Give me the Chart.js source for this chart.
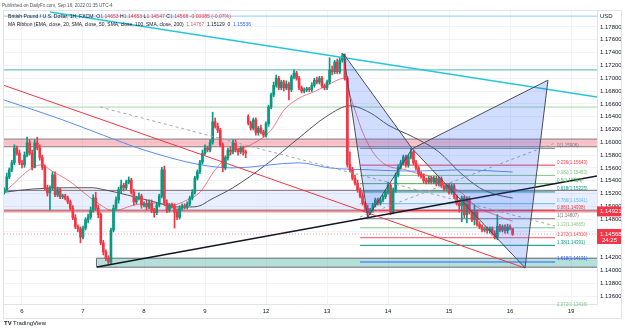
<!DOCTYPE html>
<html>
<head>
<meta charset="utf-8">
<script src="https://cdn.jsdelivr.net/npm/chart.js@4.4.1/dist/chart.umd.min.js"></script>
<style>
  html, body { margin: 0; padding: 0; background: #fff; }
</style>
</head>
<body>
<canvas id="chart1" width="625" height="330"></canvas>
<script>
// GBP/USD 1H candles. Bar index 8 = Sep 6 00:00, one bar per hour (weekend skipped)
var firstOpen = 1.1522;
var gapOpens = {96: 1.1640};   // Sunday open after the weekend gap

var closes = [
  1.1526,1.1546,1.1557,1.1568,1.1591,1.1583,1.1568,1.1565,1.1580,1.1599,
  1.1583,1.1561,1.1599,1.1591,1.1576,1.1561,1.1529,1.1521,1.1529,1.1549,
  1.1518,1.1526,1.1515,1.1516,1.1513,1.1507,1.1497,1.1482,1.1468,1.1465,
  1.1452,1.1466,1.1479,1.1483,1.1494,1.1513,1.1497,1.1487,1.1443,1.1429,
  1.1419,1.1413,1.1463,1.1497,1.1510,1.1526,1.1533,1.1529,1.1538,1.1541,
  1.1522,1.1507,1.1513,1.1516,1.1502,1.1504,1.1499,1.1505,1.1494,1.1490,
  1.1502,1.1516,1.1557,1.1505,1.1494,1.1502,1.1501,1.1491,1.1483,1.1497,
  1.1501,1.1499,1.1504,1.1513,1.1522,1.1544,1.1554,1.1569,1.1583,1.1591,
  1.1588,1.1600,1.1632,1.1625,1.1619,1.1596,1.1560,1.1576,1.1588,1.1585,
  1.1600,1.1588,1.1585,1.1591,1.1585,1.1583,1.1630,1.1622,1.1635,1.1615,
  1.1622,1.1616,1.1611,1.1629,1.1655,1.1674,1.1689,1.1700,1.1685,1.1694,
  1.1685,1.1691,1.1682,1.1702,1.1708,1.1700,1.1685,1.1680,1.1682,1.1683,
  1.1682,1.1689,1.1697,1.1694,1.1700,1.1688,1.1685,1.1694,1.1713,1.1710,
  1.1725,1.1710,1.1728,1.1735,1.1700,1.1565,1.1557,1.1544,1.1536,1.1526,
  1.1516,1.1505,1.1497,1.1490,1.1494,1.1502,1.1510,1.1505,1.1510,1.1515,
  1.1522,1.1533,1.1491,1.1526,1.1549,1.1561,1.1568,1.1577,1.1565,1.1577,
  1.1585,1.1568,1.1560,1.1551,1.1547,1.1540,1.1538,1.1544,1.1538,1.1544,
  1.1535,1.1543,1.1532,1.1527,1.1533,1.1522,1.1532,1.1515,1.1505,1.1501,
  1.1513,1.1487,1.1512,1.1491,1.1479,1.1491,1.1472,1.1468,1.1463,1.1465,
  1.1462,1.1465,1.1458,1.1451,1.1469,1.1463,1.1468,1.1462,1.1468,1.1465,
  1.14568
];
var highs = [
  1.1529,1.1552,1.1560,1.1572,1.1596,1.1594,1.1588,1.1572,1.1585,1.1608,
  1.1604,1.1588,1.1604,1.1608,1.1596,1.1580,1.1565,1.1533,1.1532,1.1554,
  1.1554,1.1530,1.1529,1.1519,1.1519,1.1516,1.1510,1.1501,1.1487,1.1471,
  1.1468,1.1469,1.1482,1.1488,1.1499,1.1518,1.1522,1.1502,1.1490,1.1447,
  1.1432,1.1423,1.1466,1.1502,1.1515,1.1530,1.1541,1.1536,1.1541,1.1546,
  1.1544,1.1526,1.1516,1.1521,1.1519,1.1507,1.1510,1.1510,1.1510,1.1497,
  1.1505,1.1519,1.1561,1.1563,1.1510,1.1505,1.1505,1.1504,1.1496,1.1501,
  1.1504,1.1504,1.1507,1.1516,1.1526,1.1547,1.1557,1.1572,1.1588,1.1596,
  1.1594,1.1604,1.1647,1.1638,1.1630,1.1622,1.1599,1.1579,1.1591,1.1593,
  1.1604,1.1604,1.1591,1.1594,1.1594,1.1588,1.1643,1.1633,1.1638,1.1638,
  1.1625,1.1627,1.1619,1.1632,1.1658,1.1677,1.1694,1.1705,1.1703,1.1697,
  1.1697,1.1696,1.1694,1.1705,1.1713,1.1711,1.1703,1.1688,1.1685,1.1686,
  1.1686,1.1693,1.1700,1.1702,1.1703,1.1703,1.1691,1.1697,1.1732,1.1719,
  1.1728,1.1730,1.1732,1.1739,1.1738,1.1703,1.1585,1.1561,1.1549,1.1541,
  1.1529,1.1521,1.1508,1.1502,1.1497,1.1505,1.1513,1.1513,1.1513,1.1518,
  1.1526,1.1538,1.1536,1.1529,1.1552,1.1565,1.1572,1.1580,1.1580,1.1580,
  1.1590,1.1588,1.1572,1.1563,1.1554,1.1551,1.1544,1.1547,1.1547,1.1547,
  1.1547,1.1546,1.1546,1.1536,1.1536,1.1536,1.1535,1.1535,1.1518,1.1510,
  1.1516,1.1516,1.1515,1.1515,1.1494,1.1502,1.1494,1.1476,1.1471,1.1468,
  1.1468,1.1468,1.1468,1.1462,1.1487,1.1472,1.1471,1.1471,1.1472,1.1471,
  1.14653
];
var lows = [
  1.1519,1.1524,1.1543,1.1554,1.1565,1.1580,1.1565,1.1560,1.1561,1.1577,
  1.1580,1.1557,1.1560,1.1588,1.1572,1.1557,1.1526,1.1516,1.1494,1.1526,
  1.1515,1.1515,1.1512,1.1512,1.1510,1.1504,1.1494,1.1479,1.1465,1.1460,
  1.1443,1.1449,1.1463,1.1474,1.1480,1.1491,1.1494,1.1482,1.1440,1.1424,
  1.1415,1.1410,1.1410,1.1460,1.1494,1.1505,1.1521,1.1524,1.1526,1.1535,
  1.1519,1.1502,1.1504,1.1510,1.1497,1.1499,1.1494,1.1496,1.1490,1.1483,
  1.1487,1.1499,1.1513,1.1502,1.1490,1.1491,1.1497,1.1466,1.1479,1.1480,
  1.1494,1.1496,1.1496,1.1501,1.1510,1.1519,1.1541,1.1551,1.1566,1.1580,
  1.1585,1.1585,1.1597,1.1622,1.1615,1.1593,1.1554,1.1557,1.1572,1.1580,
  1.1582,1.1585,1.1580,1.1582,1.1580,1.1576,1.1627,1.1619,1.1619,1.1611,
  1.1611,1.1613,1.1608,1.1608,1.1625,1.1652,1.1671,1.1686,1.1682,1.1682,
  1.1680,1.1682,1.1666,1.1679,1.1699,1.1697,1.1682,1.1677,1.1677,1.1679,
  1.1679,1.1679,1.1686,1.1691,1.1691,1.1685,1.1682,1.1682,1.1691,1.1705,
  1.1707,1.1707,1.1707,1.1725,1.1697,1.1561,1.1554,1.1541,1.1533,1.1522,
  1.1513,1.1502,1.1494,1.1483,1.1487,1.1491,1.1499,1.1502,1.1502,1.1507,
  1.1512,1.1519,1.1487,1.1488,1.1522,1.1546,1.1558,1.1565,1.1561,1.1561,
  1.1574,1.1565,1.1557,1.1547,1.1544,1.1536,1.1535,1.1535,1.1535,1.1535,
  1.1532,1.1532,1.1529,1.1524,1.1524,1.1519,1.1519,1.1512,1.1502,1.1491,
  1.1476,1.1482,1.1474,1.1488,1.1476,1.1471,1.1469,1.1465,1.1460,1.1460,
  1.1458,1.1458,1.1455,1.1449,1.1448,1.1460,1.1460,1.1458,1.1458,1.1463,
  1.14547
];

// MA Ribbon values at a few bars
var ema20Idx  = [1,7,12,16,19,26,30,35,39,43,45,52,61,67,73,78,84,91,98,106,111,117,123,128,135,137,139,142,146,151,159,163,169,174,181,187,194,201];
var ema20Vals = [1.1521,1.1544,1.1560,1.1565,1.1557,1.1541,1.1529,1.1513,1.1502,1.1494,1.1494,1.1502,1.1505,1.1502,1.1510,1.1522,1.1557,1.1585,1.1596,1.1619,1.1650,1.1669,1.1679,1.1689,1.1700,1.1674,1.1650,1.1616,1.1585,1.1565,1.1557,1.1552,1.1546,1.1536,1.1521,1.1499,1.1487,1.14767];
var sma50Idx  = [1,12,26,36,39,45,54,62,67,74,78,82,91,104,117,128,137,145,152,162,172,180,188,194,201];
var sma50Vals = [1.1522,1.1527,1.1529,1.1529,1.1527,1.1522,1.1513,1.1505,1.1499,1.1499,1.1501,1.1510,1.1529,1.1565,1.1607,1.1641,1.1657,1.1646,1.1627,1.1608,1.1585,1.1554,1.1529,1.1519,1.15129];
var sma200Idx  = [1,24,40,56,78,91,117,129,145,162,181,201];
var sma200Vals = [1.1666,1.1635,1.1611,1.1588,1.1565,1.1560,1.1568,1.1560,1.1557,1.1555,1.1557,1.15536];

// axis ticks
var dayTickIdx = [8, 32, 56, 80, 104, 128, 152, 176, 200, 224];
var dayTickLabels = ['6', '7', '8', '9', '12', '13', '14', '15', '16', '19'];
var priceTicks = [1.136,1.138,1.140,1.142,1.144,1.146,1.148,1.150,1.152,1.154,1.156,1.158,1.160,1.162,1.164,1.166,1.168,1.170,1.172,1.174,1.176,1.178];
var hiddenPriceTicks = [1.144, 1.146];

// drawings
var redZone = [1.1605, 1.1593];
var blueZone = [1.1525, 1.1494];
var greenZone = [1.1419, 1.1405];
var greenZoneStart = 37.3;
var hLinePrices = [1.1797, 1.1713, 1.1655, 1.14921];
var hLineColors = ['#90caf9', '#4db6ac', '#a5d6a7', 'rgba(242,54,69,0.55)'];
var fibLevels = ['0','0.236','0.382','0.5','0.618','0.786','0.88','1','1.13','1.272','1.38','1.618','2.272'];
var fibPrices = [1.15906,1.15643,1.15483,1.15354,1.15225,1.15041,1.14938,1.14807,1.14665,1.14510,1.14391,1.14131,1.13416];
var fibColors = ['#787b86','#f23645','#81c784','#4caf50','#089981','#64b5f6','#f23645','#787b86','#81c784','#f7525f','#089981','#2962ff','#81c784'];
var fibStart = 141, fibEnd = 217.7;
// XABCD pattern points
var patIdx = [134.5, 144, 161.5, 205.9, 214.9];
var patPrices = [1.1738, 1.1483, 1.1590, 1.1404, 1.1697];

var lastOpen = 1.14653, lastClose = 1.14568;

var up = '#089981', down = '#f23645';
var bodyData = [], wickData = [], colors = [];
for (var k = 0; k < closes.length; k++) {
    var o = k === 0 ? firstOpen : (gapOpens[k] !== undefined ? gapOpens[k] : closes[k - 1]);
    bodyData.push({x: k + 1, y: [o, closes[k]]});
    wickData.push({x: k + 1, y: [lows[k], highs[k]]});
    colors.push(closes[k] >= o ? up : down);
}

function pts(xs, ys) {
    return xs.map(function(x, i) { return {x: x, y: ys[i]}; });
}
function seg(x1, y1, x2, y2, color, width, dash, order) {
    return {type: 'line', data: [{x: x1, y: y1}, {x: x2, y: y2}], borderColor: color, borderWidth: width,
        borderDash: dash || [], pointRadius: 0, fill: false, tension: 0, order: order};
}
function poly(xs, ys, fillColor, lineColor, width, order) {
    return {type: 'line', data: pts(xs, ys), backgroundColor: fillColor, borderColor: lineColor, borderWidth: width,
        pointRadius: 0, fill: 'shape', tension: 0, order: order};
}
function zone(x0, x1, p) {
    return [[x0, x1, x1, x0, x0], [p[0], p[0], p[1], p[1], p[0]]];
}

var datasets = [];
var z = zone(-5, 240, redZone);
datasets.push(poly(z[0], z[1], 'rgba(242,54,69,0.3)', '#7b7e87', 1, 20));
z = zone(-5, 240, blueZone);
datasets.push(poly(z[0], z[1], 'rgba(41,98,255,0.1)', '#7d6a70', 1, 20));
z = zone(greenZoneStart, 240, greenZone);
datasets.push(poly(z[0], z[1], 'rgba(8,153,129,0.3)', '#6a6d78', 1, 20));

hLinePrices.forEach(function(p, i) {
    datasets.push(seg(-5, p, 240, p, hLineColors[i], i === 3 ? 2 : 1, null, 18));
});
fibPrices.forEach(function(p, i) {
    datasets.push(seg(fibStart, p, fibEnd, p, fibColors[i], 1, null, 16));
});

datasets.push({type: 'line', data: pts(sma200Idx, sma200Vals), borderColor: '#5b8def', borderWidth: 1,
    pointRadius: 0, cubicInterpolationMode: 'monotone', fill: false, order: 14});
datasets.push({type: 'line', data: pts(sma50Idx, sma50Vals), borderColor: '#50535e', borderWidth: 1,
    pointRadius: 0, cubicInterpolationMode: 'monotone', fill: false, order: 14});
datasets.push({type: 'line', data: pts(ema20Idx, ema20Vals), borderColor: 'rgba(242,54,69,0.65)', borderWidth: 1,
    pointRadius: 0, cubicInterpolationMode: 'monotone', fill: false, order: 14});

datasets.push({type: 'bar', data: wickData, backgroundColor: colors, barThickness: 1, grouped: false, order: 12});
datasets.push({type: 'bar', data: bodyData, backgroundColor: colors, barThickness: 2, grouped: false, minBarLength: 1, order: 11});

// trend lines
datasets.push(seg(19.0, 1.18034, 234.2, 1.16707, '#26c6da', 1.5, null, 5));
datasets.push(seg(0.53, 1.16894, 205.9, 1.14037, '#f23645', 1, null, 5));
datasets.push(seg(37.5, 1.14053, 234.2, 1.15474, '#131722', 1.5, null, 5));
datasets.push(seg(38.7, 1.16551, 217.7, 1.14693, '#a3a6af', 1, [3, 3], 5));
datasets.push(seg(141, 1.14834, 217.7, 1.15990, '#a3a6af', 1, [3, 3], 5));

// XABCD pattern
datasets.push(poly([patIdx[0], patIdx[1], patIdx[2], patIdx[0]], [patPrices[0], patPrices[1], patPrices[2], patPrices[0]],
    'rgba(41,98,255,0.22)', '#4a4d57', 1, 4));
datasets.push(poly([patIdx[2], patIdx[3], patIdx[4], patIdx[2]], [patPrices[2], patPrices[3], patPrices[4], patPrices[2]],
    'rgba(41,98,255,0.22)', '#4a4d57', 1, 4));

// last price line
datasets.push(seg(-5, lastClose, 240, lastClose, 'rgba(242,54,69,0.5)', 1, [1, 2], 3));

var FONT = '"Liberation Sans", Arial, sans-serif';

function runs(ctx, x, y, parts) {
    parts.forEach(function(p) {
        ctx.fillStyle = p[1];
        ctx.fillText(p[0], x, y);
        x += ctx.measureText(p[0]).width;
    });
}

var textPlugin = {
    id: 'texts',
    afterDraw: function(chart) {
        var ctx = chart.ctx, xs = chart.scales.x, ys = chart.scales.y, area = chart.chartArea;
        ctx.save();

        // fib labels
        ctx.save();
        ctx.beginPath();
        ctx.rect(area.left, area.top, area.right - area.left, area.bottom - area.top + 2);
        ctx.clip();
        ctx.font = '4.5px ' + FONT;
        ctx.textBaseline = 'bottom';
        ctx.textAlign = 'left';
        fibPrices.forEach(function(p, i) {
            ctx.fillStyle = fibColors[i];
            ctx.fillText(fibLevels[i] + '(' + p.toFixed(5) + ')', xs.getPixelForValue(218.5), ys.getPixelForValue(p) - 0.5);
        });
        ctx.restore();

        // header
        ctx.textBaseline = 'middle';
        ctx.font = '4.6px ' + FONT;
        ctx.fillStyle = '#50535e';
        ctx.fillText('Published on DailyFx.com, Sep 16, 2022 01:35 UTC-4', 2, 6);
        ctx.font = '5.1px ' + FONT;
        var dark = '#131722', red = '#f23645';
        runs(ctx, 8, 17, [['British Pound / U.S. Dollar, 1H, FXCM  O', dark], ['1.14653', red], [' H', dark], ['1.14653', red],
            [' L', dark], ['1.14547', red], [' C', dark], ['1.14568', red], [' -0.00085 (-0.07%)', red]]);
        ctx.font = '4.95px ' + FONT;
        runs(ctx, 8, 25, [['MA Ribbon (EMA, close, 20, SMA, close, 50, SMA, close, 100, SMA, close, 200)  ', dark],
            ['1.14767', '#f7525f'], ['  1.15129', dark], ['  0', dark], ['  1.15536', '#2962ff']]);

        // price scale extras
        ctx.font = '6px ' + FONT;
        ctx.fillStyle = dark;
        ctx.fillText('USD', 600, 16);
        var y1 = ys.getPixelForValue(1.14921);
        ctx.fillStyle = red;
        ctx.fillRect(597, y1 - 5, 24, 10);
        var y2 = ys.getPixelForValue(lastClose);
        ctx.fillRect(597, y2 - 5, 24, 15);
        ctx.fillStyle = '#fff';
        ctx.fillText('1.14921', 600, y1);
        ctx.fillText(lastClose.toFixed(5), 600, y2);
        ctx.fillText('24:25', 602, y2 + 6);

        // frame + logo
        ctx.strokeStyle = '#e0e3eb';
        ctx.lineWidth = 1;
        ctx.strokeRect(3.5, 10.5, 618, 308);
        ctx.fillStyle = dark;
        ctx.font = 'bold 6px ' + FONT;
        ctx.fillText('TV', 4, 323);
        ctx.font = '6px ' + FONT;
        ctx.fillText('TradingView', 13, 323);
        ctx.restore();
    }
};

var ctx = document.getElementById('chart1').getContext('2d');
var chart = new Chart(ctx, {
    type: 'bar',
    data: {datasets: datasets},
    options: {
        responsive: false,
        animation: false,
        events: [],
        layout: {padding: {left: 3, top: 10, right: 4, bottom: 12}},
        plugins: {legend: {display: false}, tooltip: {enabled: false}},
        scales: {
            x: {
                type: 'linear', min: 0.53, max: 234.2, offset: false, bounds: 'data',
                grid: {color: '#f1f3f6', drawTicks: false, offset: false},
                border: {color: '#e0e3eb'},
                afterBuildTicks: function(s) { s.ticks = dayTickIdx.map(function(v) { return {value: v}; }); },
                afterFit: function(s) { s.height = 14; },
                ticks: {autoSkip: false, maxRotation: 0, padding: 4, color: '#131722', font: {family: FONT, size: 6},
                    callback: function(v, i) { return dayTickLabels[i]; }}
            },
            y: {
                type: 'linear', position: 'right', min: 1.134753, max: 1.180654, beginAtZero: false, bounds: 'data',
                grid: {color: '#f1f3f6', drawTicks: false},
                border: {color: '#e0e3eb'},
                afterBuildTicks: function(s) { s.ticks = priceTicks.map(function(v) { return {value: v}; }); },
                afterFit: function(s) { s.width = 24; },
                ticks: {autoSkip: false, padding: 3, color: '#131722', font: {family: FONT, size: 6},
                    callback: function(v) { return hiddenPriceTicks.indexOf(v) >= 0 ? '' : v.toFixed(5); }}
            }
        }
    },
    plugins: [textPlugin]
});
</script>
</body>
</html>
